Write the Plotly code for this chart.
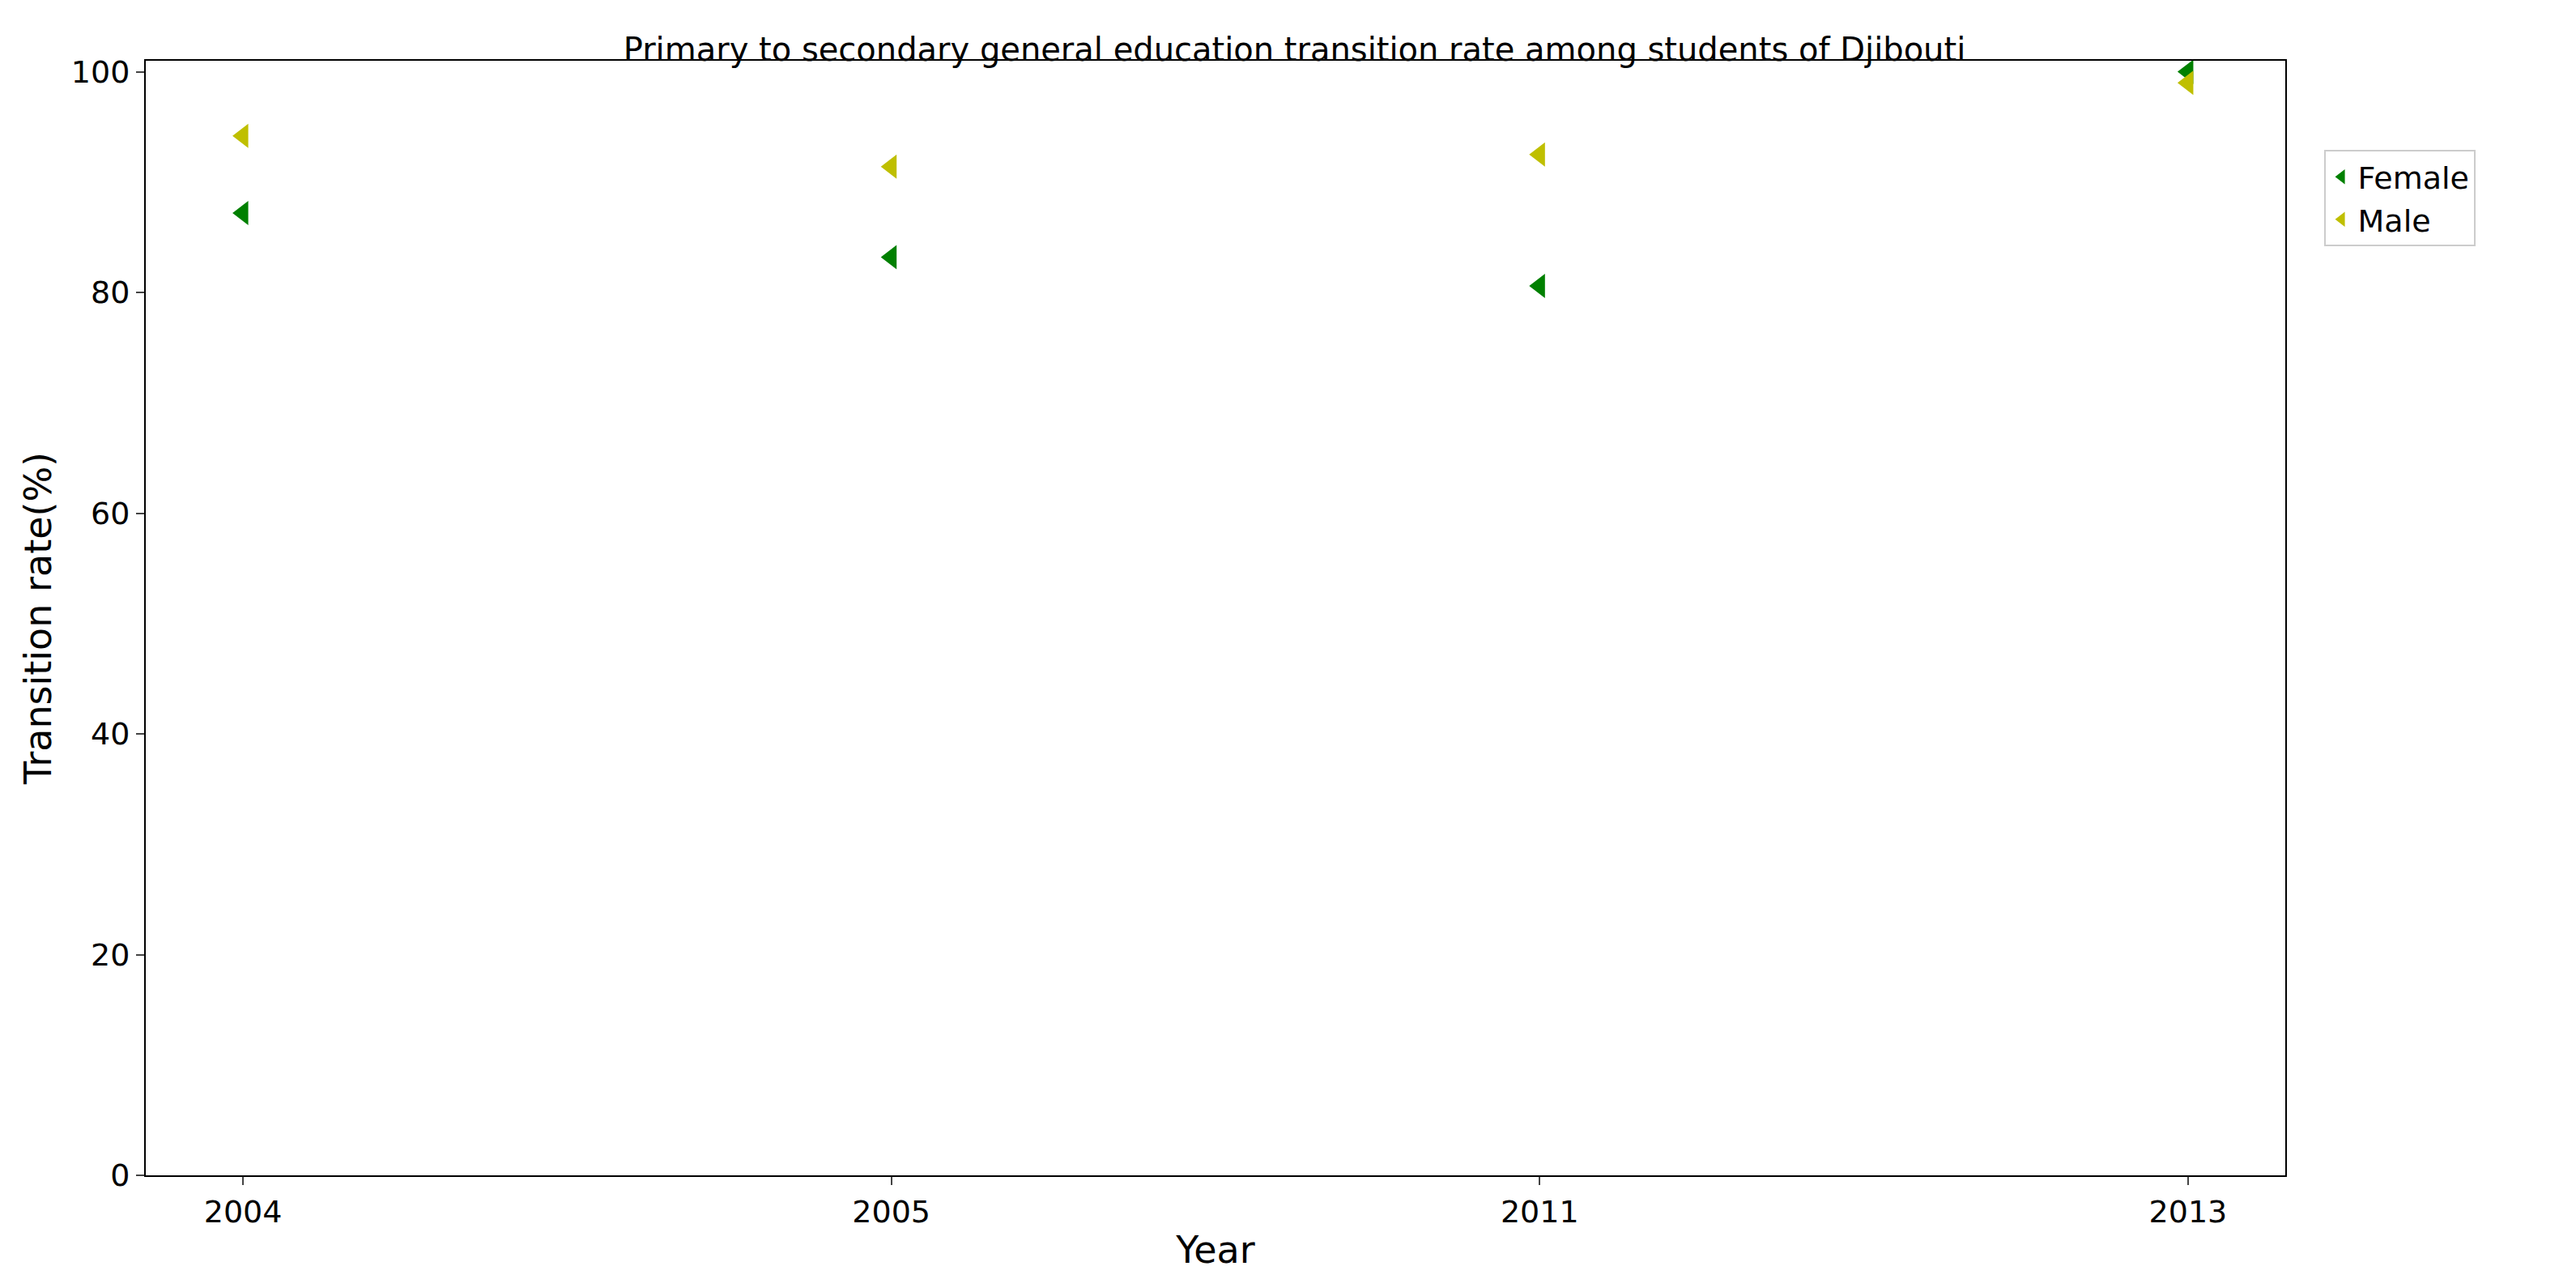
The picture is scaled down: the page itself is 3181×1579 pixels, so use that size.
import plotly.graph_objects as go

# values
years = ["2004", "2005", "2011", "2013"]
female = [87.2, 83.2, 80.6, 100.0]
male = [94.2, 91.4, 92.5, 99.0]

fig = go.Figure()
fig.add_trace(go.Scatter(x=years, y=female, mode="markers", name="Female",
                         marker=dict(symbol="triangle-left", size=26, color="green")))
fig.add_trace(go.Scatter(x=years, y=male, mode="markers", name="Male",
                         marker=dict(symbol="triangle-left", size=26, color="#bfbf00")))

fig.update_layout(
    width=3181, height=1579,
    template="plotly_white",
    font=dict(family="DejaVu Sans", size=38, color="black"),
    title=dict(text="Primary to secondary general education transition rate among students of Djibouti",
               x=0.5, xanchor="center", y=0.975, font=dict(size=40)),
    margin=dict(l=172, r=367, t=67, b=136),
    legend=dict(x=1.018, y=0.92, xanchor="left", yanchor="top",
                bordercolor="#cccccc", borderwidth=2, font=dict(size=38)),
    xaxis=dict(title=dict(text="Year", standoff=10), type="category", range=[-0.15, 3.15],
               showline=True, linecolor="black", linewidth=2, mirror=True,
               showgrid=False, ticks="outside", ticklen=10, tickwidth=2),
    yaxis=dict(title=dict(text="Transition rate(%)", standoff=10), range=[0, 101],
               tickvals=[0, 20, 40, 60, 80, 100],
               showline=True, linecolor="black", linewidth=2, mirror=True,
               showgrid=False, zeroline=False, ticks="outside", ticklen=10, tickwidth=2),
)

fig.write_html("out.html")
